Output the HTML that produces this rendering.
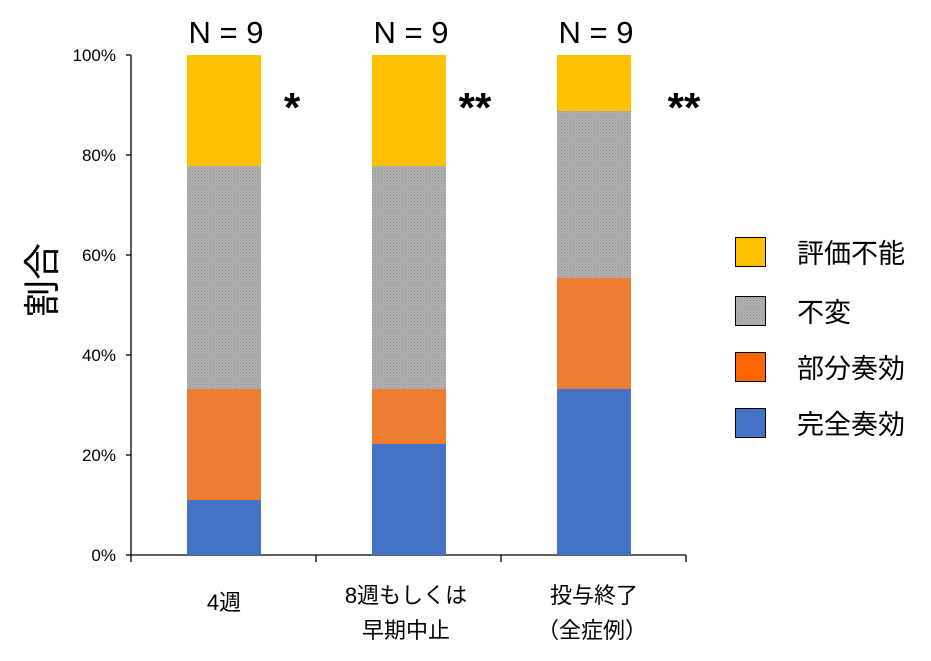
<!DOCTYPE html><html><head><style>body{margin:0;background:#fff}svg{display:block}text{font-family:"Liberation Sans","Noto Sans CJK JP",sans-serif}</style></head><body>
<svg width="931" height="661" viewBox="0 0 931 661">
<defs><pattern id="g" width="3" height="3" patternUnits="userSpaceOnUse"><rect width="3" height="3" fill="#b4b4b4"/><rect width="1" height="1" fill="#8c8c8c"/><rect x="1.5" y="1.5" width="1" height="1" fill="#8c8c8c"/></pattern></defs>
<g stroke="#000" stroke-width="1.3">
<line x1="131" y1="55" x2="131" y2="556"/><line x1="131" y1="555" x2="686" y2="555"/>
<line x1="126" y1="55" x2="131" y2="55"/><line x1="126" y1="155" x2="131" y2="155"/><line x1="126" y1="255" x2="131" y2="255"/><line x1="126" y1="355" x2="131" y2="355"/><line x1="126" y1="455" x2="131" y2="455"/><line x1="126" y1="555" x2="131" y2="555"/>
<line x1="131" y1="555" x2="131" y2="562"/><line x1="316" y1="555" x2="316" y2="562"/><line x1="501" y1="555" x2="501" y2="562"/><line x1="686" y1="555" x2="686" y2="562"/>
</g>
<g font-size="17" text-anchor="end"><text x="116" y="61">100%</text><text x="116" y="161">80%</text><text x="116" y="261">60%</text><text x="116" y="361">40%</text><text x="116" y="461">20%</text><text x="116" y="561">0%</text></g>
<text x="42" y="280" font-size="37" text-anchor="middle" transform="rotate(-90 42 280)" dy="13">割合</text>
<rect x="187" y="55" width="74" height="111" fill="#ffc000"/><rect x="187" y="166" width="74" height="223" fill="url(#g)"/><rect x="187" y="389" width="74" height="111" fill="#ed7d31"/><rect x="187" y="500" width="74" height="55" fill="#4472c4"/>
<rect x="372" y="55" width="74" height="111" fill="#ffc000"/><rect x="372" y="166" width="74" height="223" fill="url(#g)"/><rect x="372" y="389" width="74" height="55" fill="#ed7d31"/><rect x="372" y="444" width="74" height="111" fill="#4472c4"/>
<rect x="557" y="55" width="74" height="56" fill="#ffc000"/><rect x="557" y="111" width="74" height="167" fill="url(#g)"/><rect x="557" y="278" width="74" height="111" fill="#ed7d31"/><rect x="557" y="389" width="74" height="166" fill="#4472c4"/>
<g font-size="31" text-anchor="middle"><text x="226" y="43">N = 9</text><text x="411" y="43">N = 9</text><text x="596" y="43">N = 9</text></g>
<g font-size="42" text-anchor="middle" font-weight="bold"><text x="292" y="122">*</text><text x="475" y="122">**</text><text x="684" y="122">**</text></g>
<g font-size="22" text-anchor="middle"><text x="224" y="610">4週</text><text x="406" y="603">8週もしくは</text><text x="406" y="638">早期中止</text><text x="594" y="603">投与終了</text><text x="592" y="638">（全症例）</text></g>
<g stroke="#000" stroke-width="1"><rect x="735.5" y="237.5" width="30" height="29" fill="#ffc000"/><rect x="735.5" y="296.5" width="30" height="29" fill="url(#g)"/><rect x="735.5" y="352.5" width="30" height="29" fill="#ff6600"/><rect x="735.5" y="408.5" width="30" height="29" fill="#4472c4"/></g>
<g font-size="27"><text x="797" y="263">評価不能</text><text x="797" y="322">不変</text><text x="797" y="378">部分奏効</text><text x="797" y="434">完全奏効</text></g>
</svg></body></html>
